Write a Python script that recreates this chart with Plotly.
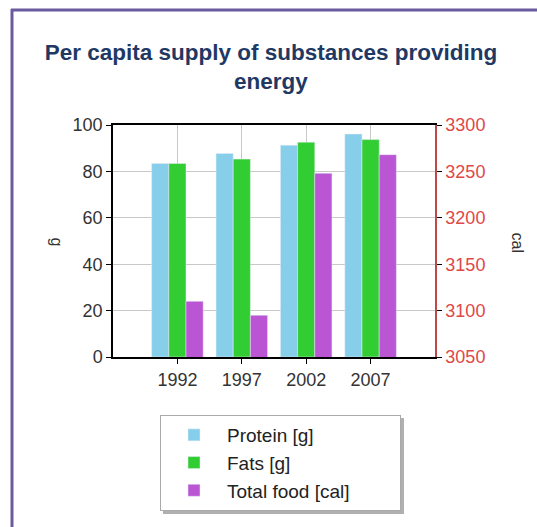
import plotly.graph_objects as go

years = ["1992", "1997", "2002", "2007"]
protein_g = [83.4, 87.7, 91.3, 96.1]
fats_g = [83.4, 85.3, 92.6, 93.7]
total_food_cal = [3110, 3095, 3248, 3268]

W, H = 537, 527
L, R, T, B = 113, 102, 125, 170
PW, PH = W - L - R, H - T - B


def px(x):
    return (x - L) / PW


def py(y):
    return (H - B - y) / PH


fig = go.Figure()
fig.add_trace(go.Bar(x=years, y=protein_g, name="Protein [g]", marker_color="#87CEEB",
                     offsetgroup="1", yaxis="y"))
fig.add_trace(go.Bar(x=years, y=fats_g, name="Fats [g]", marker_color="#32CD32",
                     offsetgroup="2", yaxis="y"))
fig.add_trace(go.Bar(x=years, y=total_food_cal, name="Total food [cal]", marker_color="#BA55D3",
                     offsetgroup="3", yaxis="y2"))

font_family = "Liberation Sans, Arial, sans-serif"

fig.update_layout(
    width=W, height=H,
    margin=dict(l=L, r=R, t=T, b=B, autoexpand=False),
    paper_bgcolor="white", plot_bgcolor="white",
    barmode="group", bargap=0.2, bargroupgap=0,
    font=dict(family=font_family, size=17, color="#333333"),
    title=dict(text="<b>Per capita supply of substances providing<br>energy</b>",
               x=271 / W, xanchor="center", y=1 - 60 / H, yanchor="top",
               font=dict(family=font_family, size=22.5, color="#1F3864")),
    xaxis=dict(type="category", range=[-1, 4], showgrid=True, gridcolor="#c8c8c8",
               ticks="outside", ticklen=5, tickcolor="black", showline=True,
               linecolor="black", linewidth=2, mirror=True,
               tickfont=dict(size=18, color="#333333")),
    yaxis=dict(range=[0, 100], dtick=20, showgrid=True, gridcolor="#c8c8c8",
               ticks="outside", ticklen=5, tickcolor="black", showline=True,
               linecolor="black", linewidth=1.5, zeroline=False,
               tickfont=dict(size=18, color="#333333")),
    yaxis2=dict(range=[3050, 3300], dtick=50, overlaying="y", side="right",
                showgrid=False, ticks="outside", ticklen=5, tickcolor="black",
                showline=True, linecolor="#c04848", linewidth=1.5, zeroline=False,
                tickfont=dict(size=18, color="#e04848")),
    legend=dict(x=px(160), y=py(415), xanchor="left", yanchor="top",
                orientation="h",
                bgcolor="white", bordercolor="#aaaaaa", borderwidth=1,
                itemwidth=56, entrywidth=168, entrywidthmode="pixels",
                font=dict(size=19, color="#222222"), traceorder="normal"),
    showlegend=True,
)

fig.add_annotation(text="g", x=px(46), y=py(242), xref="paper", yref="paper",
                   showarrow=False, textangle=90, font=dict(size=16, color="#333333"))
fig.add_annotation(text="cal", x=px(528), y=py(242), xref="paper", yref="paper",
                   showarrow=False, textangle=90, font=dict(size=16, color="#333333"))

# legend shadow
fig.add_shape(type="rect", xref="paper", yref="paper", x0=px(163), x1=px(404),
              y0=py(514), y1=py(418), fillcolor="#b0b0b0", line_width=0, layer="below")
# frame lines (purple, left and top)
fig.add_shape(type="line", xref="paper", yref="paper", x0=px(12), x1=px(12),
              y0=py(9), y1=py(530), line=dict(color="#6B5B9E", width=3))
fig.add_shape(type="line", xref="paper", yref="paper", x0=px(11), x1=px(540),
              y0=py(10), y1=py(10), line=dict(color="#6B5B9E", width=3))

fig.write_html("out.html", config={"displayModeBar": False},
               post_script="document.body.style.margin='0';")
